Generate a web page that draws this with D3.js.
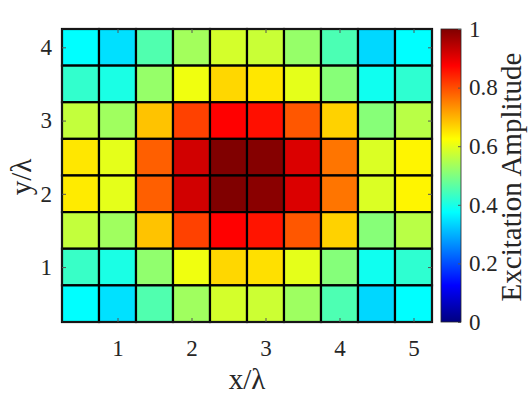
<!DOCTYPE html>
<html>
<head>
<meta charset="utf-8">
<script src="https://cdn.jsdelivr.net/npm/d3@7"></script>
<style>
  body { margin: 0; background: #fff; }
  svg { display: block; }
  text { font-family: "Liberation Serif", "Times New Roman", serif; fill: #262626; }
</style>
</head>
<body>
<div id="chart"></div>
<script>
var w = 532, h = 399;

// element centres (in wavelengths)
var xPos = [0.5, 1, 1.5, 2, 2.5, 3, 3.5, 4, 4.5, 5];
var yPos = [4, 3.5, 3, 2.5, 2, 1.5, 1, 0.5];   // top row first

// excitation amplitude, one array per row, top to bottom
var row8 = [0.375, 0.345, 0.453, 0.535, 0.583, 0.572, 0.522, 0.449, 0.337, 0.375];
var row7 = [0.424, 0.400, 0.522, 0.610, 0.664, 0.649, 0.600, 0.507, 0.390, 0.420];
var row6 = [0.566, 0.532, 0.684, 0.811, 0.875, 0.860, 0.790, 0.669, 0.507, 0.556];
var row5 = [0.649, 0.600, 0.782, 0.920, 1.000, 0.995, 0.910, 0.760, 0.590, 0.635];
var row4 = [0.645, 0.600, 0.782, 0.920, 1.000, 0.990, 0.910, 0.760, 0.590, 0.635];
var row3 = [0.566, 0.532, 0.684, 0.811, 0.875, 0.855, 0.790, 0.669, 0.507, 0.556];
var row2 = [0.430, 0.400, 0.517, 0.610, 0.664, 0.655, 0.600, 0.505, 0.390, 0.420];
var row1 = [0.375, 0.346, 0.453, 0.532, 0.583, 0.575, 0.530, 0.450, 0.336, 0.375];
var amp = [row8, row7, row6, row5, row4, row3, row2, row1];

var xTicks = [1, 2, 3, 4, 5];
var yTicks = [1, 2, 3, 4];
var cTicks = [0, 0.2, 0.4, 0.6, 0.8, 1];

// matlab jet
function jet(v) {
  function c(t) { return Math.round(255 * Math.max(0, Math.min(1, t))); }
  return d3.rgb(c(1.5 - Math.abs(4 * v - 3)), c(1.5 - Math.abs(4 * v - 2)), c(1.5 - Math.abs(4 * v - 1)));
}

// plot box (window.top is reserved, so pTop etc.)
var pLeft = 62, pRight = 432, pTop = 29, pBottom = 322;
var tickFont = 23, labelFont = 29;

var x = d3.scaleLinear().domain([0.25, 5.25]).range([pLeft, pRight]);
var y = d3.scaleLinear().domain([0.25, 4.25]).range([pBottom, pTop]);
var cy = d3.scaleLinear().domain([0, 1]).range([pBottom, pTop]);

var svg = d3.select("#chart").append("svg")
    .attr("width", w)
    .attr("height", h);

// flatten grid into cells
var cells = [];
amp.forEach(function (row, j) {
  row.forEach(function (v, i) {
    cells.push({x: xPos[i], y: yPos[j], v: v});
  });
});

var cw = x(0.5) - x(0);
var ch = y(0) - y(0.5);

svg.selectAll("rect.cell")
    .data(cells)
    .enter()
    .append("rect")
    .attr("class", "cell")
    .attr("x", function (d) { return x(d.x - 0.25); })
    .attr("y", function (d) { return y(d.y + 0.25); })
    .attr("width", cw)
    .attr("height", ch)
    .attr("fill", function (d) { return jet(d.v); })
    .attr("stroke", "#000")
    .attr("stroke-width", 2.2);

// axes box with inward ticks on all sides
svg.append("rect")
    .attr("x", pLeft).attr("y", pTop)
    .attr("width", pRight - pLeft).attr("height", pBottom - pTop)
    .attr("fill", "none").attr("stroke", "#262626").attr("stroke-width", 1.2);

function styleAxis(g) {
  g.select(".domain").remove();
  g.selectAll("line").attr("stroke", "#555");
  g.selectAll("text").attr("font-size", tickFont).attr("fill", "#262626")
    .style("font-family", "Liberation Serif, serif");
}

var tl = 4;
svg.append("g").attr("transform", "translate(0," + pBottom + ")")
    .call(d3.axisBottom(x).tickValues(xTicks).tickSize(-tl).tickPadding(18).tickFormat(d3.format("d")))
    .call(styleAxis);
svg.append("g").attr("transform", "translate(0," + pTop + ")")
    .call(d3.axisTop(x).tickValues(xTicks).tickSize(-tl).tickFormat(""))
    .call(styleAxis);

svg.append("g").attr("transform", "translate(" + pLeft + ",0)")
    .call(d3.axisLeft(y).tickValues(yTicks).tickSize(-tl).tickPadding(10).tickFormat(d3.format("d")))
    .call(styleAxis);
svg.append("g").attr("transform", "translate(" + pRight + ",0)")
    .call(d3.axisRight(y).tickValues(yTicks).tickSize(-tl).tickFormat(""))
    .call(styleAxis);

// axis labels
svg.append("text")
    .attr("x", (pLeft + pRight) / 2)
    .attr("y", 389)
    .attr("text-anchor", "middle")
    .attr("font-size", labelFont)
    .text("x/\u03bb");

svg.append("text")
    .attr("transform", "translate(31,177) rotate(-90)")
    .attr("text-anchor", "middle")
    .attr("font-size", labelFont)
    .text("y/\u03bb");

// colorbar
var cbx = 441, cbw = 20;
var grad = svg.append("defs").append("linearGradient")
    .attr("id", "jetgrad")
    .attr("x1", 0).attr("y1", 1).attr("x2", 0).attr("y2", 0);
d3.range(0, 1.0001, 0.0625).forEach(function (t) {
  grad.append("stop").attr("offset", t).attr("stop-color", jet(t));
});

svg.append("rect")
    .attr("x", cbx).attr("y", pTop)
    .attr("width", cbw).attr("height", pBottom - pTop)
    .attr("fill", "url(#jetgrad)")
    .attr("stroke", "#262626").attr("stroke-width", 0.8);

svg.append("g").attr("transform", "translate(" + (cbx + cbw) + ",0)")
    .call(d3.axisRight(cy).tickValues(cTicks).tickSize(-3).tickPadding(8).tickFormat(d3.format("")))
    .call(styleAxis);

svg.append("text")
    .attr("transform", "translate(521,177) rotate(-90)")
    .attr("text-anchor", "middle")
    .attr("font-size", labelFont)
    .text("Excitation Amplitude");
</script>
</body>
</html>
